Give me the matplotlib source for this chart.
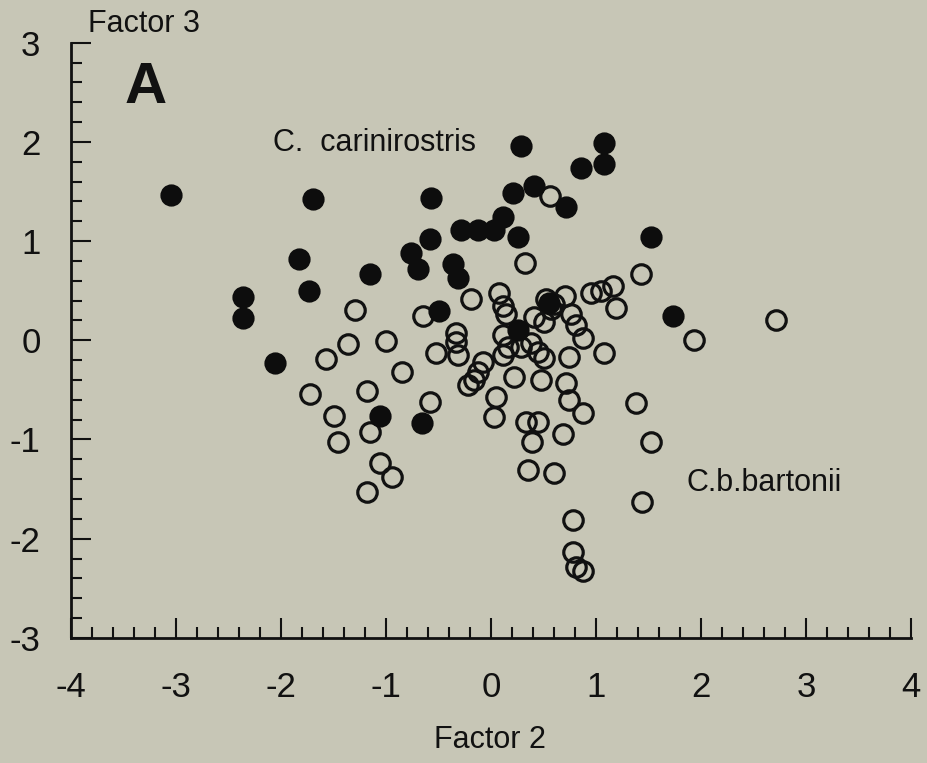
#!python
# -*- coding: utf-8 -*-
import matplotlib
matplotlib.use('agg')
import matplotlib.pyplot as plt
from matplotlib.ticker import MultipleLocator

plt.rcParams['font.family'] = ['Liberation Sans', 'DejaVu Sans']

# C. carinirostris (filled)
cari_x = [-3.05, -2.36, -2.36, -2.06, -1.83, -1.73, -1.70, -1.15, -1.06, -0.76,
          -0.70, -0.66, -0.57, -0.58, -0.50, -0.36, -0.31, -0.29, -0.12, 0.03,
          0.11, 0.21, 0.26, 0.29, 0.41, 0.71, 0.86, 1.08, 1.08, 1.52,
          1.73, 0.26, 0.55]
cari_y = [1.46, 0.44, 0.22, -0.23, 0.82, 0.50, 1.42, 0.67, -0.76, 0.88,
          0.72, -0.83, 1.43, 1.02, 0.30, 0.77, 0.63, 1.11, 1.11, 1.11,
          1.24, 1.49, 1.04, 1.96, 1.56, 1.34, 1.74, 1.78, 1.99, 1.04,
          0.25, 0.10, 0.38]

# C.b.bartonii (open)
bart_x = [-1.30, -1.36, -1.57, -1.00, -0.85, -1.72, -1.18, -1.50, -1.15, -1.46,
          -1.06, -0.94, -1.18, -0.58, -0.65, -0.52, -0.19, 0.08, 0.11, 0.14,
          -0.33, -0.33, -0.31, 0.11, 0.41, 0.50, 0.57, 0.52, 0.60, 0.70,
          0.76, 0.81, 0.88, 0.95, 1.05, 1.16, 1.19, 1.43, 0.16, 0.11,
          0.29, 0.38, 0.45, 0.50, -0.08, -0.12, -0.16, -0.22, 0.22, 0.48,
          0.05, 0.74, 1.08, 0.71, 0.74, 0.88, 1.38, 0.33, 0.45, 0.69,
          0.03, 0.39, 1.52, 0.35, 0.60, 1.44, 0.78, 0.78, 0.81, 0.88,
          0.32, 0.56, 1.93, 2.71]
bart_y = [0.31, -0.04, -0.19, -0.01, -0.32, -0.54, -0.51, -0.76, -0.92, -1.03,
          -1.24, -1.38, -1.53, -0.62, 0.24, -0.13, 0.42, 0.48, 0.35, 0.27,
          0.07, -0.02, -0.15, 0.05, 0.23, 0.18, 0.32, 0.42, 0.37, 0.45,
          0.27, 0.15, 0.02, 0.48, 0.50, 0.55, 0.33, 0.67, -0.07, -0.15,
          -0.07, -0.03, -0.12, -0.18, -0.22, -0.32, -0.40, -0.45, -0.37, -0.40,
          -0.57, -0.17, -0.13, -0.43, -0.60, -0.73, -0.63, -0.82, -0.82, -0.94,
          -0.77, -1.03, -1.03, -1.31, -1.34, -1.63, -1.81, -2.13, -2.29, -2.33,
          0.78, 1.45, 0.00, 0.20]

x_ticks = [-4, -3, -2, -1, 0, 1, 2, 3, 4]
y_ticks = [-3, -2, -1, 0, 1, 2, 3]

bg = '#c7c6b6'
ink = '#111111'

fig = plt.figure(figsize=(9.27, 7.63), dpi=100, facecolor=bg)
ax = fig.add_axes([0.0767, 0.164, 0.906, 0.78])
ax.set_facecolor(bg)

ax.plot(bart_x, bart_y, 'o', ms=14, mew=2.3, mec=ink, mfc='none', zorder=3)
ax.plot(cari_x, cari_y, 'o', ms=14, mew=2.0, mec='#0d0d0d', mfc='#0d0d0d', zorder=4)

ax.set_xlim(-4, 4)
ax.set_ylim(-3, 3)
ax.set_xticks(x_ticks)
ax.set_yticks(y_ticks)
ax.set_xticklabels([str(t) for t in x_ticks])
ax.set_yticklabels([str(t) for t in y_ticks])
ax.xaxis.set_minor_locator(MultipleLocator(0.2))
ax.yaxis.set_minor_locator(MultipleLocator(0.2))

ax.tick_params(which='major', direction='in', length=14.5, width=1.5, color=ink,
               labelsize=25, labelcolor=ink)
ax.tick_params(which='minor', direction='in', length=8, width=1.5, color=ink)
ax.tick_params(axis='x', which='major', pad=24)
ax.tick_params(axis='y', which='major', pad=22)

for s in ['top', 'right']:
    ax.spines[s].set_visible(False)
for s in ['left', 'bottom']:
    ax.spines[s].set_linewidth(2)
    ax.spines[s].set_color(ink)

ax.text(-3.49, 2.54, 'A', fontsize=42, fontweight='bold', va='center', ha='left', color=ink)
ax.text(-2.08, 1.99, 'C.  carinirostris', fontsize=22, va='center', ha='left', color=ink)
ax.text(1.86, -1.44, 'C.b.bartonii', fontsize=22, va='center', ha='left', color=ink)
ax.text(-3.84, 3.19, 'Factor 3', fontsize=22, va='center', ha='left', color=ink, clip_on=False)
fig.text(0.528, 0.03, 'Factor 2', fontsize=22, va='center', ha='center', color=ink)

plt.savefig('out.png', dpi=100, facecolor=bg)
